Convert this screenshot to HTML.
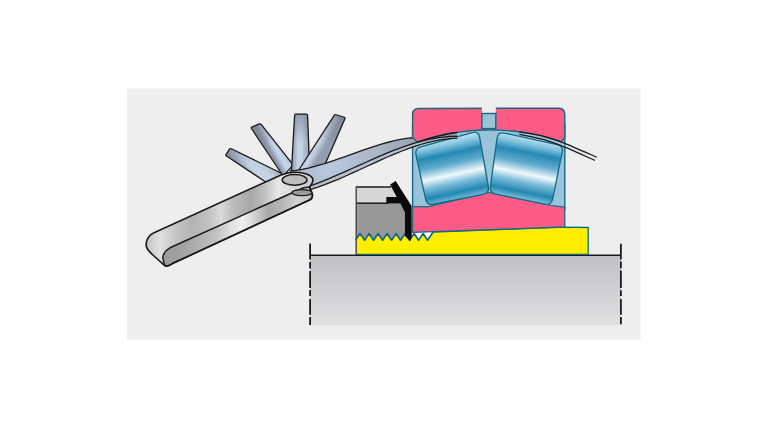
<!DOCTYPE html>
<html><head><meta charset="utf-8"><style>html,body{margin:0;padding:0;background:#fff;width:768px;height:429px;overflow:hidden}svg{display:block;filter:blur(0.45px)}</style></head>
<body><svg width="768" height="429" viewBox="0 0 768 429">
<defs>
<linearGradient id="gShaft" x1="0" y1="0" x2="0" y2="1"><stop offset="0" stop-color="#bfc0c3"/><stop offset="1" stop-color="#dfe0e2"/></linearGradient>
<linearGradient id="gR1" gradientUnits="userSpaceOnUse" x1="445.0" y1="140.0" x2="458.0" y2="200.0"><stop offset="0" stop-color="#b8def0"/><stop offset="0.1" stop-color="#7fc0dd"/><stop offset="0.23" stop-color="#2589b4"/><stop offset="0.4" stop-color="#5eaacd"/><stop offset="0.58" stop-color="#f0f8fc"/><stop offset="0.72" stop-color="#78bad8"/><stop offset="0.88" stop-color="#2288b2"/><stop offset="1" stop-color="#7cbedb"/></linearGradient>
<linearGradient id="gR2" gradientUnits="userSpaceOnUse" x1="532.0" y1="139.0" x2="520.0" y2="199.0"><stop offset="0" stop-color="#b8def0"/><stop offset="0.1" stop-color="#7fc0dd"/><stop offset="0.23" stop-color="#2589b4"/><stop offset="0.4" stop-color="#5eaacd"/><stop offset="0.58" stop-color="#f0f8fc"/><stop offset="0.72" stop-color="#78bad8"/><stop offset="0.88" stop-color="#2288b2"/><stop offset="1" stop-color="#7cbedb"/></linearGradient>
<linearGradient id="gTop" gradientUnits="userSpaceOnUse" x1="146" y1="0" x2="313" y2="0"><stop offset="0.000" stop-color="#c4c4c4"/><stop offset="0.084" stop-color="#e0e0e0"/><stop offset="0.174" stop-color="#c6c6c6"/><stop offset="0.275" stop-color="#b4b4b4"/><stop offset="0.371" stop-color="#c0c0c0"/><stop offset="0.449" stop-color="#dadada"/><stop offset="0.521" stop-color="#bcbcbc"/><stop offset="0.623" stop-color="#a8a8a8"/><stop offset="0.695" stop-color="#bababa"/><stop offset="0.790" stop-color="#e6e6e6"/><stop offset="0.892" stop-color="#d8d8d8"/><stop offset="1.000" stop-color="#cdcdcd"/></linearGradient>
<linearGradient id="gSide" gradientUnits="userSpaceOnUse" x1="163" y1="0" x2="313" y2="0"><stop offset="0.000" stop-color="#9a9a9a"/><stop offset="0.147" stop-color="#a4a4a4"/><stop offset="0.347" stop-color="#c0c0c0"/><stop offset="0.460" stop-color="#e2e2e2"/><stop offset="0.533" stop-color="#f0f0f0"/><stop offset="0.600" stop-color="#d6d6d6"/><stop offset="0.700" stop-color="#a8a8a8"/><stop offset="0.780" stop-color="#b4b4b4"/><stop offset="0.900" stop-color="#d2d2d2"/><stop offset="1.000" stop-color="#c0c0c0"/></linearGradient>
<linearGradient id="gLong" gradientUnits="userSpaceOnUse" x1="290" y1="0" x2="457" y2="0"><stop offset="0" stop-color="#a9b5c7"/><stop offset="0.24" stop-color="#b9c8dc"/><stop offset="0.5" stop-color="#acb7c8"/><stop offset="0.72" stop-color="#9ca5b2"/><stop offset="1" stop-color="#8e96a3"/></linearGradient>
<linearGradient id="gB0" gradientUnits="userSpaceOnUse" x1="231.0" y1="163.0" x2="254.0" y2="140.0"><stop offset="0" stop-color="#8a96a6"/><stop offset="0.35" stop-color="#c7d5e9"/><stop offset="0.6" stop-color="#c2d0e3"/><stop offset="1" stop-color="#939eae"/></linearGradient>
<linearGradient id="gB1" gradientUnits="userSpaceOnUse" x1="262.0" y1="137.0" x2="276.0" y2="129.0"><stop offset="0" stop-color="#8a96a6"/><stop offset="0.35" stop-color="#c7d5e9"/><stop offset="0.6" stop-color="#c2d0e3"/><stop offset="1" stop-color="#939eae"/></linearGradient>
<linearGradient id="gB2" gradientUnits="userSpaceOnUse" x1="292.0" y1="140.0" x2="309.0" y2="140.0"><stop offset="0" stop-color="#8a96a6"/><stop offset="0.35" stop-color="#c7d5e9"/><stop offset="0.6" stop-color="#c2d0e3"/><stop offset="1" stop-color="#939eae"/></linearGradient>
<linearGradient id="gB3" gradientUnits="userSpaceOnUse" x1="313.0" y1="135.0" x2="327.0" y2="143.0"><stop offset="0" stop-color="#8a96a6"/><stop offset="0.35" stop-color="#c7d5e9"/><stop offset="0.6" stop-color="#c2d0e3"/><stop offset="1" stop-color="#939eae"/></linearGradient>
</defs>
<rect x="0" y="0" width="768" height="429" fill="#fff"/>
<rect x="127" y="88.5" width="513.6" height="251.2" fill="#eeeeee"/>
<rect x="310" y="255" width="311" height="70" fill="url(#gShaft)"/>
<line x1="310" y1="255.3" x2="621" y2="255.3" stroke="#1a1a1a" stroke-width="1.6"/>
<line x1="310.1" y1="243.5" x2="310.1" y2="259.5" stroke="#1a1a1a" stroke-width="1.8"/>
<line x1="310.1" y1="262.0" x2="310.1" y2="268.5" stroke="#1a1a1a" stroke-width="1.8"/>
<line x1="310.1" y1="271.0" x2="310.1" y2="288.0" stroke="#1a1a1a" stroke-width="1.8"/>
<line x1="310.1" y1="290.0" x2="310.1" y2="296.0" stroke="#1a1a1a" stroke-width="1.8"/>
<line x1="310.1" y1="299.0" x2="310.1" y2="314.8" stroke="#1a1a1a" stroke-width="1.8"/>
<line x1="310.1" y1="317.0" x2="310.1" y2="325.0" stroke="#1a1a1a" stroke-width="1.8"/>
<line x1="620.9" y1="243.7" x2="620.9" y2="259.4" stroke="#1a1a1a" stroke-width="1.8"/>
<line x1="620.9" y1="261.5" x2="620.9" y2="268.3" stroke="#1a1a1a" stroke-width="1.8"/>
<line x1="620.9" y1="270.4" x2="620.9" y2="288.1" stroke="#1a1a1a" stroke-width="1.8"/>
<line x1="620.9" y1="290.2" x2="620.9" y2="296.0" stroke="#1a1a1a" stroke-width="1.8"/>
<line x1="620.9" y1="299.1" x2="620.9" y2="314.8" stroke="#1a1a1a" stroke-width="1.8"/>
<line x1="620.9" y1="317.0" x2="620.9" y2="324.3" stroke="#1a1a1a" stroke-width="1.8"/>
<polygon points="356.00,187.00 391.50,187.00 395.50,197.00 395.50,203.50 356.00,203.50" fill="#d4d6d8"/>
<polygon points="356.00,203.50 400.40,203.50 405.00,212.50 405.50,242.00 356.00,242.00" fill="#98989b"/>
<line x1="356" y1="187.0" x2="391" y2="187.0" stroke="#1a1a1a" stroke-width="1.5"/>
<line x1="356" y1="203.2" x2="388" y2="203.2" stroke="#1a1a1a" stroke-width="1.5"/>
<line x1="356.2" y1="186.5" x2="356.2" y2="240" stroke="#444" stroke-width="1.4"/>
<rect x="410" y="231" width="24" height="10" fill="#fff"/>
<polygon points="356.00,254.40 588.20,254.40 588.20,227.50 564.80,227.10 433.00,232.20 432.10,233.60 427.60,240.20 423.10,233.60 418.60,240.20 414.10,233.60 409.60,240.20 405.10,233.60 400.60,240.20 396.10,233.60 391.60,240.20 387.10,233.60 382.60,240.20 378.10,233.60 373.60,240.20 369.10,233.60 364.60,240.20 360.10,233.60 356.00,239.30" fill="#ffee00"/>
<polyline points="356.00,254.40 588.20,254.40 588.20,227.50 564.80,227.10 433.00,232.20" fill="none" stroke="#126a83" stroke-width="1.3" stroke-linejoin="round"/>
<polyline points="433.00,232.20 432.10,233.60 427.60,240.20 423.10,233.60 418.60,240.20 414.10,233.60 409.60,240.20 405.10,233.60 400.60,240.20 396.10,233.60 391.60,240.20 387.10,233.60 382.60,240.20 378.10,233.60 373.60,240.20 369.10,233.60 364.60,240.20 360.10,233.60 356.00,239.30" fill="none" stroke="#126a83" stroke-width="1.7" stroke-linejoin="round"/>
<line x1="356.2" y1="239" x2="356.2" y2="255" stroke="#444" stroke-width="1.4"/>
<rect x="412.6" y="125" width="152.2" height="85" fill="#98c3d9" stroke="#126a83" stroke-width="1.4"/>
<polygon points="412.60,206.50 427.00,206.80 489.00,192.50 551.50,205.50 564.80,207.20 564.80,226.90 412.60,232.40" fill="#fc5b86" stroke="#126a83" stroke-width="1.2" stroke-linejoin="round"/>
<path d="M415.98,154.85 Q414.60,148.50 420.86,146.76 L472.24,132.54 Q478.50,130.80 479.63,137.20 L488.37,186.60 Q489.50,193.00 483.13,194.27 L433.37,204.23 Q427.00,205.50 425.62,199.15 Z" fill="url(#gR1)" stroke="#126a83" stroke-width="1.3"/>
<path d="M497.10,138.14 Q498.00,131.70 504.35,133.09 L557.15,144.61 Q563.50,146.00 562.19,152.37 L552.61,199.13 Q551.30,205.50 544.93,204.19 L495.87,194.11 Q489.50,192.80 490.40,186.36 Z" fill="url(#gR2)" stroke="#126a83" stroke-width="1.3"/>
<polygon points="390.10,184.40 395.70,181.10 411.60,206.00 411.80,236.00 410.20,241.00 405.00,236.00 404.90,212.50 400.40,203.60 386.40,203.60 386.40,197.00 396.60,197.00" fill="#0a0a0a"/>
<linearGradient id="gB0" gradientUnits="userSpaceOnUse" x1="248.8" y1="170.8" x2="257.6" y2="161.6"><stop offset="0" stop-color="#aebbcd"/><stop offset="0.3" stop-color="#c8d6ea"/><stop offset="0.65" stop-color="#b6c3d5"/><stop offset="1" stop-color="#909bab"/></linearGradient>
<linearGradient id="gB0L" gradientUnits="userSpaceOnUse" x1="227.8" y1="151.8" x2="278.5" y2="180.6"><stop offset="0" stop-color="#6d7684" stop-opacity="0.55"/><stop offset="0.45" stop-color="#6d7684" stop-opacity="0"/></linearGradient>
<path d="M226.50,156.06 Q225.50,155.40 226.16,154.40 L229.54,149.20 Q230.20,148.20 231.28,148.73 L283.92,174.47 Q285.00,175.00 284.09,175.78 L272.91,185.32 Q272.00,186.10 271.00,185.44 Z" fill="url(#gB0)"/>
<path d="M226.50,156.06 Q225.50,155.40 226.16,154.40 L229.54,149.20 Q230.20,148.20 231.28,148.73 L283.92,174.47 Q285.00,175.00 284.09,175.78 L272.91,185.32 Q272.00,186.10 271.00,185.44 Z" fill="url(#gB0L)" stroke="#1a1a1a" stroke-width="1.3" stroke-linejoin="round"/>
<linearGradient id="gB1" gradientUnits="userSpaceOnUse" x1="267.0" y1="151.8" x2="276.9" y2="144.2"><stop offset="0" stop-color="#aebbcd"/><stop offset="0.3" stop-color="#c8d6ea"/><stop offset="0.65" stop-color="#b6c3d5"/><stop offset="1" stop-color="#909bab"/></linearGradient>
<linearGradient id="gB1L" gradientUnits="userSpaceOnUse" x1="255.6" y1="125.5" x2="288.2" y2="170.5"><stop offset="0" stop-color="#6d7684" stop-opacity="0.55"/><stop offset="0.45" stop-color="#6d7684" stop-opacity="0"/></linearGradient>
<path d="M251.47,128.50 Q250.80,127.50 251.91,127.04 L259.29,123.96 Q260.40,123.50 261.15,124.44 L292.55,164.06 Q293.30,165.00 292.48,165.88 L283.92,175.12 Q283.10,176.00 282.43,175.00 Z" fill="url(#gB1)"/>
<path d="M251.47,128.50 Q250.80,127.50 251.91,127.04 L259.29,123.96 Q260.40,123.50 261.15,124.44 L292.55,164.06 Q293.30,165.00 292.48,165.88 L283.92,175.12 Q283.10,176.00 282.43,175.00 Z" fill="url(#gB1L)" stroke="#1a1a1a" stroke-width="1.3" stroke-linejoin="round"/>
<linearGradient id="gB2" gradientUnits="userSpaceOnUse" x1="292.9" y1="146.1" x2="308.8" y2="146.1"><stop offset="0" stop-color="#aebbcd"/><stop offset="0.3" stop-color="#c8d6ea"/><stop offset="0.65" stop-color="#b6c3d5"/><stop offset="1" stop-color="#909bab"/></linearGradient>
<linearGradient id="gB2L" gradientUnits="userSpaceOnUse" x1="301.1" y1="114.1" x2="300.5" y2="178.0"><stop offset="0" stop-color="#6d7684" stop-opacity="0.55"/><stop offset="0.45" stop-color="#6d7684" stop-opacity="0"/></linearGradient>
<path d="M294.63,115.30 Q294.70,114.10 295.90,114.10 L306.30,114.10 Q307.50,114.10 307.55,115.30 L309.95,176.80 Q310.00,178.00 308.80,178.00 L292.20,178.00 Q291.00,178.00 291.07,176.80 Z" fill="url(#gB2)"/>
<path d="M294.63,115.30 Q294.70,114.10 295.90,114.10 L306.30,114.10 Q307.50,114.10 307.55,115.30 L309.95,176.80 Q310.00,178.00 308.80,178.00 L292.20,178.00 Q291.00,178.00 291.07,176.80 Z" fill="url(#gB2L)" stroke="#1a1a1a" stroke-width="1.3" stroke-linejoin="round"/>
<linearGradient id="gB3" gradientUnits="userSpaceOnUse" x1="314.2" y1="146.2" x2="332.9" y2="146.3"><stop offset="0" stop-color="#aebbcd"/><stop offset="0.3" stop-color="#c8d6ea"/><stop offset="0.65" stop-color="#b6c3d5"/><stop offset="1" stop-color="#909bab"/></linearGradient>
<linearGradient id="gB3L" gradientUnits="userSpaceOnUse" x1="340.1" y1="116.0" x2="307.0" y2="176.5"><stop offset="0" stop-color="#6d7684" stop-opacity="0.55"/><stop offset="0.45" stop-color="#6d7684" stop-opacity="0"/></linearGradient>
<path d="M334.25,115.41 Q334.90,114.40 336.05,114.75 L344.25,117.25 Q345.40,117.60 344.92,118.70 L320.88,173.90 Q320.40,175.00 319.21,175.13 L294.79,177.87 Q293.60,178.00 294.25,176.99 Z" fill="url(#gB3)"/>
<path d="M334.25,115.41 Q334.90,114.40 336.05,114.75 L344.25,117.25 Q345.40,117.60 344.92,118.70 L320.88,173.90 Q320.40,175.00 319.21,175.13 L294.79,177.87 Q293.60,178.00 294.25,176.99 Z" fill="url(#gB3L)" stroke="#1a1a1a" stroke-width="1.3" stroke-linejoin="round"/>
<path d="M290.00,191.90 L296.96,190.05 L303.92,187.94 L310.88,185.59 L317.83,183.03 L324.79,180.30 L331.75,177.43 L338.71,174.44 L345.67,171.37 L352.62,168.25 L359.58,165.11 L366.54,161.98 L373.50,158.89 L380.46,155.87 L387.42,152.96 L394.38,150.18 L401.33,147.57 L408.29,145.15 L415.25,142.96 L422.21,141.03 L429.17,139.38 L436.12,138.06 L443.08,137.08 L450.04,136.49 L457.00,136.30 L457.00,138.19 L450.04,138.55 L443.08,139.35 L436.12,140.55 L429.17,142.10 L422.21,143.99 L415.25,146.16 L408.29,148.59 L401.33,151.24 L394.38,154.07 L387.42,157.05 L380.46,160.14 L373.50,163.31 L366.54,166.52 L359.58,169.74 L352.62,172.92 L345.67,176.04 L338.71,179.06 L331.75,181.94 L324.79,184.65 L317.83,187.15 L310.88,189.41 L303.92,191.38 L296.96,193.04 L290.00,194.35 Z" fill="#b7c0cd"/>
<path d="M290.00,171.16 L296.14,170.39 L302.28,169.33 L308.42,168.02 L314.56,166.48 L320.70,164.75 L326.84,162.86 L332.98,160.84 L339.12,158.73 L345.26,156.55 L351.40,154.34 L357.54,152.14 L363.68,149.96 L369.82,147.86 L375.96,145.85 L382.10,143.97 L388.24,142.25 L394.38,140.73 L400.52,139.43 L406.66,138.39 L412.80,137.65 L418.00,141.65 L425.00,139.36 L432.00,137.33 L440.00,135.31 L448.00,133.61 L457.00,132.06 L457.00,136.30 L450.04,136.49 L443.08,137.08 L436.12,138.06 L429.17,139.38 L422.21,141.03 L415.25,142.96 L408.29,145.15 L401.33,147.57 L394.38,150.18 L387.42,152.96 L380.46,155.87 L373.50,158.89 L366.54,161.98 L359.58,165.11 L352.62,168.25 L345.67,171.37 L338.71,174.44 L331.75,177.43 L324.79,180.30 L317.83,183.03 L310.88,185.59 L303.92,187.94 L296.96,190.05 L290.00,191.90 Z" fill="url(#gLong)"/>
<path d="M290.00,171.16 L296.14,170.39 L302.28,169.33 L308.42,168.02 L314.56,166.48 L320.70,164.75 L326.84,162.86 L332.98,160.84 L339.12,158.73 L345.26,156.55 L351.40,154.34 L357.54,152.14 L363.68,149.96 L369.82,147.86 L375.96,145.85 L382.10,143.97 L388.24,142.25 L394.38,140.73 L400.52,139.43 L406.66,138.39 L412.80,137.65 L418.00,141.65 L425.00,139.36 L432.00,137.33 L440.00,135.31 L448.00,133.61 L457.00,132.06" fill="none" stroke="#1a1a1a" stroke-width="1.30" stroke-linecap="round"/>
<path d="M290.00,191.90 L296.96,190.05 L303.92,187.94 L310.88,185.59 L317.83,183.03 L324.79,180.30 L331.75,177.43 L338.71,174.44 L345.67,171.37 L352.62,168.25 L359.58,165.11 L366.54,161.98 L373.50,158.89 L380.46,155.87 L387.42,152.96 L394.38,150.18 L401.33,147.57 L408.29,145.15 L415.25,142.96 L422.21,141.03 L429.17,139.38 L436.12,138.06 L443.08,137.08 L450.04,136.49 L457.00,136.30" fill="none" stroke="#1a1a1a" stroke-width="1.30" stroke-linecap="round"/>
<path d="M290.00,194.35 L296.96,193.04 L303.92,191.38 L310.88,189.41 L317.83,187.15 L324.79,184.65 L331.75,181.94 L338.71,179.06 L345.67,176.04 L352.62,172.92 L359.58,169.74 L366.54,166.52 L373.50,163.31 L380.46,160.14 L387.42,157.05 L394.38,154.07 L401.33,151.24 L408.29,148.59 L415.25,146.16 L422.21,143.99 L429.17,142.10 L436.12,140.55 L443.08,139.35 L450.04,138.55 L457.00,138.19" fill="none" stroke="#1a1a1a" stroke-width="1.25" stroke-linecap="round"/>
<path d="M412.6,137.8 L412.6,114.5 Q412.6,108.5 418.6,108.5 L558.8,108.2 Q564.8,108.2 564.8,114.4 L564.8,137.6 L561.4,141.88 L561.40,141.88 L557.81,140.68 L554.22,139.55 L550.62,138.48 L547.03,137.48 L543.44,136.54 L539.85,135.67 L536.25,134.86 L532.66,134.12 L529.07,133.43 L525.48,132.81 L521.88,132.25 L518.29,131.75 L514.70,131.31 L511.10,130.93 L507.51,130.61 L503.92,130.35 L500.33,130.15 L496.74,130.01 L493.14,129.93 L489.55,129.90 L485.96,129.93 L482.37,130.03 L478.77,130.18 L475.18,130.39 L471.59,130.66 L468.00,130.98 L464.40,131.37 L460.81,131.82 L457.22,132.33 L453.62,132.90 L450.03,133.53 L446.44,134.22 L442.85,134.97 L439.25,135.79 L435.66,136.67 L432.07,137.61 L428.48,138.62 L424.88,139.70 L421.29,140.84 L417.70,142.06 Z" fill="#fc5b86" stroke="#126a83" stroke-width="1.4" stroke-linejoin="round"/>
<rect x="481.9" y="106.5" width="13.9" height="7" fill="#eeeeee"/>
<rect x="481.9" y="113.5" width="13.9" height="15.1" fill="#98c3d9" stroke="#126a83" stroke-width="1.4"/>
<path d="M417.70,142.06 L421.00,140.94 L425.00,139.66 L429.00,138.47 L433.00,137.36 L437.00,136.33 L441.00,135.38 L445.00,134.51 L449.00,133.72 L453.00,133.00 L457.00,132.36" fill="none" stroke="#1a1a1a" stroke-width="1.3" stroke-linecap="round"/>
<path d="M519.30,131.80 C523.42,132.55 536.62,134.47 544.00,136.30 C551.38,138.13 554.80,139.32 563.60,142.80 C572.40,146.28 591.27,154.80 596.80,157.20 L594.80,160.40 C589.60,158.12 572.07,150.17 563.60,146.70 C555.13,143.23 551.38,141.65 544.00,139.60 C536.62,137.55 523.42,135.27 519.30,134.40 Z" fill="#b9cfdd" fill-opacity="0.25" stroke="none"/>
<path d="M519.30,131.80 C523.42,132.55 536.62,134.47 544.00,136.30 C551.38,138.13 554.80,139.32 563.60,142.80 C572.40,146.28 591.27,154.80 596.80,157.20" fill="none" stroke="#1a1a1a" stroke-width="1.25"/>
<path d="M594.80,160.40 C589.60,158.12 572.07,150.17 563.60,146.70 C555.13,143.23 551.38,141.65 544.00,139.60 C536.62,137.55 523.42,135.27 519.30,134.40" fill="none" stroke="#1a1a1a" stroke-width="1.25"/>
<path d="M153.5,232.96 L281,174.94 C287,172.6 291,172.3 295,172.3 C306,172.5 313.5,176 312.9,180.7 C312.6,183.5 311,185.5 309.5,187 L312.4,194.4 Q313,199 308,200.68 L172,263.79 Q168,266.7 165,265.8 L154,256 Q147,250 146.2,246 Q146,240 149,236.5 Q151,234 153.5,232.96 Z" fill="url(#gTop)" stroke="none"/>
<path d="M165,265.8 Q162,258 163.2,255.5 Q164.5,251 170,247.80 L303.5,187.73 L309.5,187 L312.4,194.4 Q313,199 308,200.68 L172,263.79 Q168,266.7 165,265.8 Z" fill="url(#gSide)" stroke="#1a1a1a" stroke-width="1.5" stroke-linejoin="round"/>
<path d="M153.5,232.96 L281,174.94 C287,172.6 291,172.3 295,172.3 C306,172.5 313.5,176 312.9,180.7 C312.6,183.5 311,185.5 309.5,187 L312.4,194.4 Q313,199 308,200.68 L172,263.79 Q168,266.7 165,265.8 L154,256 Q147,250 146.2,246 Q146,240 149,236.5 Q151,234 153.5,232.96 Z" fill="none" stroke="#1a1a1a" stroke-width="1.6" stroke-linejoin="round"/>
<ellipse cx="302" cy="192.6" rx="10" ry="3" fill="#9a9a9a" stroke="#1a1a1a" stroke-width="1.2"/>
<ellipse cx="294.6" cy="179.9" rx="12.4" ry="5.3" fill="#bdbdbd" stroke="#1a1a1a" stroke-width="1.5"/>
</svg></body></html>
